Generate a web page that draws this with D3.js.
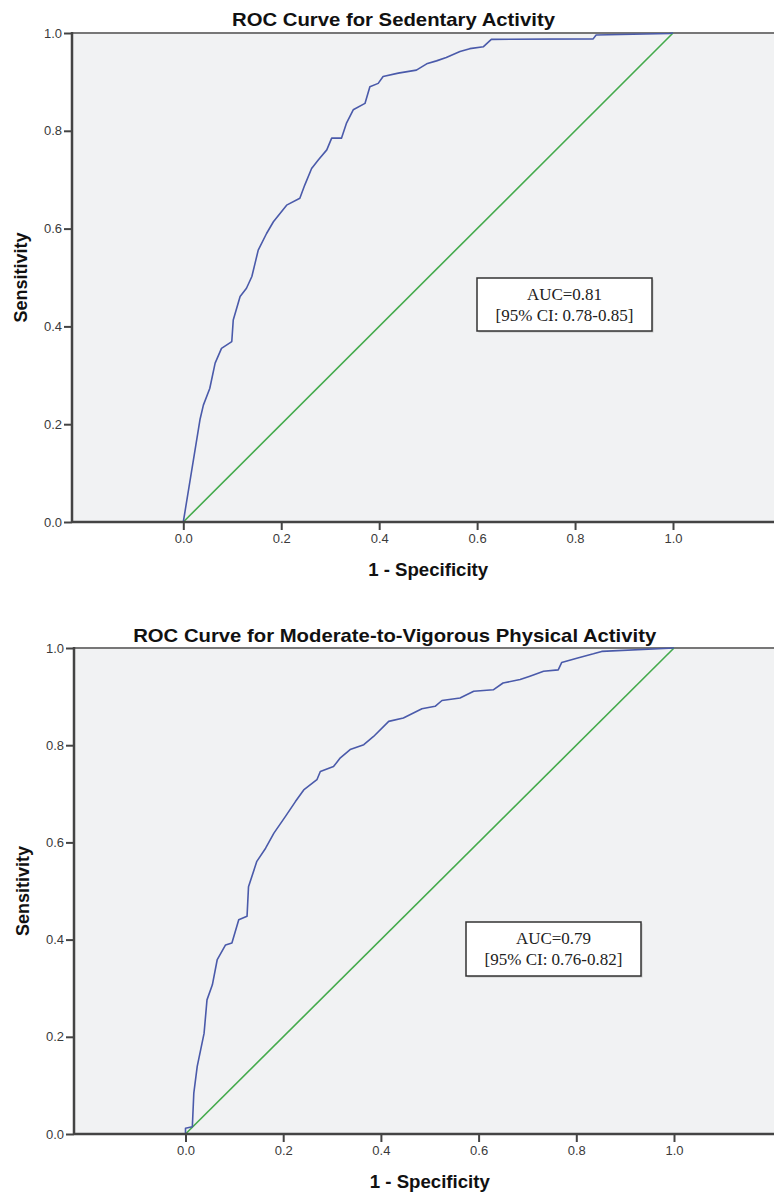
<!DOCTYPE html>
<html>
<head>
<meta charset="utf-8">
<script src="https://cdn.jsdelivr.net/npm/d3@7"></script>
<style>
  body { margin: 0; background: #fff; }
  svg { display: block; }
</style>
</head>
<body>
<svg id="chart" width="774" height="1195"></svg>
<script>
// ROC points (1 - specificity, sensitivity)
const sedFpr = [0, 0.034, 0.041, 0.054, 0.065, 0.078, 0.099, 0.102, 0.116, 0.129,
  0.140, 0.153, 0.170, 0.184, 0.211, 0.238, 0.248, 0.262, 0.276, 0.293,
  0.303, 0.323, 0.333, 0.347, 0.371, 0.381, 0.398, 0.408, 0.439, 0.476,
  0.497, 0.517, 0.537, 0.565, 0.585, 0.613, 0.629, 0.837, 0.843, 0.993, 1];
const sedTpr = [0, 0.209, 0.239, 0.273, 0.325, 0.355, 0.369, 0.413, 0.461, 0.478,
  0.502, 0.556, 0.590, 0.614, 0.648, 0.662, 0.689, 0.723, 0.741, 0.761,
  0.785, 0.785, 0.815, 0.843, 0.856, 0.890, 0.897, 0.911, 0.918, 0.924,
  0.937, 0.943, 0.950, 0.962, 0.968, 0.972, 0.987, 0.988, 0.996, 0.999, 1];

const mvpaFpr = [0, 0, 0.014, 0.017, 0.024, 0.031, 0.038, 0.044, 0.055, 0.065,
  0.082, 0.095, 0.109, 0.126, 0.129, 0.146, 0.164, 0.181, 0.205, 0.225,
  0.242, 0.269, 0.276, 0.303, 0.317, 0.337, 0.365, 0.385, 0.416, 0.446,
  0.484, 0.511, 0.525, 0.562, 0.590, 0.630, 0.650, 0.685, 0.705, 0.733,
  0.763, 0.770, 0.801, 0.835, 0.852, 1];
const mvpaTpr = [0, 0.012, 0.015, 0.084, 0.139, 0.173, 0.207, 0.276, 0.307, 0.359,
  0.389, 0.393, 0.441, 0.448, 0.509, 0.561, 0.588, 0.619, 0.654, 0.684,
  0.708, 0.729, 0.746, 0.756, 0.774, 0.791, 0.801, 0.818, 0.849, 0.856,
  0.875, 0.880, 0.892, 0.897, 0.911, 0.914, 0.928, 0.935, 0.942, 0.952,
  0.955, 0.970, 0.979, 0.988, 0.993, 1];

const refLine = [0, 1];
const xTicks = [0, 0.2, 0.4, 0.6, 0.8, 1.0];
const yTicks = [0, 0.2, 0.4, 0.6, 0.8, 1.0];
const titles = ["ROC Curve for Sedentary Activity", "ROC Curve for Moderate-to-Vigorous Physical Activity"];
const aucLines = [
  ["AUC=0.81", "[95% CI: 0.78-0.85]"],
  ["AUC=0.79", "[95% CI: 0.76-0.82]"]
];

const svg = d3.select('#chart');
const fmt = d3.format('.1f');

function drawPanel(p) {
  const g = svg.append('g');
  const x = d3.scaleLinear().domain([0, 1]).range([p.x0, p.x1]);
  const y = d3.scaleLinear().domain([0, 1]).range([p.bottom, p.top]);

  // plot background
  g.append('rect')
    .attr('x', p.left).attr('y', p.top)
    .attr('width', p.right - p.left).attr('height', p.bottom - p.top)
    .attr('fill', '#f1f2f3');

  // top frame
  g.append('line')
    .attr('x1', p.left).attr('x2', p.right)
    .attr('y1', p.top).attr('y2', p.top)
    .attr('stroke', '#777').attr('stroke-width', 2);

  // diagonal reference
  g.append('path')
    .datum(refLine)
    .attr('d', d3.line().x(d => x(d)).y(d => y(d)))
    .attr('fill', 'none').attr('stroke', '#44aa4c').attr('stroke-width', 1.6);

  // ROC curve
  const pts = p.fpr.map((v, i) => [v, p.tpr[i]]);
  g.append('path')
    .datum(pts)
    .attr('d', d3.line().x(d => x(d[0])).y(d => y(d[1])))
    .attr('fill', 'none').attr('stroke', '#4a5aaa').attr('stroke-width', 1.6)
    .attr('stroke-linejoin', 'round');

  // axes
  const yAxis = g.append('g')
    .attr('transform', `translate(${p.left},0)`)
    .call(d3.axisLeft(y).tickValues(yTicks).tickFormat(fmt).tickSize(8).tickPadding(2));
  const xAxis = g.append('g')
    .attr('transform', `translate(0,${p.bottom})`)
    .call(d3.axisBottom(x).tickValues(xTicks).tickFormat(fmt).tickSize(8).tickPadding(4));

  [yAxis, xAxis].forEach(a => {
    a.select('.domain').remove();
    a.selectAll('.tick line').attr('stroke', '#444').attr('stroke-width', 2);
    a.selectAll('.tick text')
      .attr('fill', '#3a3a3a')
      .style('font-family', '"Liberation Sans", Arial, sans-serif')
      .style('font-size', '13px');
  });

  g.append('line')
    .attr('x1', p.left).attr('x2', p.left)
    .attr('y1', p.top - 1).attr('y2', p.bottom + 1)
    .attr('stroke', '#444').attr('stroke-width', 2.5);
  g.append('line')
    .attr('x1', p.left).attr('x2', p.right)
    .attr('y1', p.bottom).attr('y2', p.bottom)
    .attr('stroke', '#444').attr('stroke-width', 2.5);

  // titles
  g.append('text')
    .attr('x', p.titleX).attr('y', p.titleY)
    .attr('text-anchor', 'middle')
    .attr('textLength', p.titleLen).attr('lengthAdjust', 'spacingAndGlyphs')
    .style('font-family', '"Liberation Sans", Arial, sans-serif')
    .style('font-weight', 'bold').style('font-size', '19px')
    .attr('fill', '#111')
    .text(p.title);

  g.append('text')
    .attr('x', (p.x0 + p.x1) / 2).attr('y', p.bottom + 54)
    .attr('text-anchor', 'middle')
    .attr('textLength', 120).attr('lengthAdjust', 'spacingAndGlyphs')
    .style('font-family', '"Liberation Sans", Arial, sans-serif')
    .style('font-weight', 'bold').style('font-size', '18px')
    .attr('fill', '#111')
    .text('1 - Specificity');

  g.append('text')
    .attr('transform', `translate(${p.left - 45},${(p.top + p.bottom) / 2}) rotate(-90)`)
    .attr('text-anchor', 'middle')
    .attr('textLength', 90).attr('lengthAdjust', 'spacingAndGlyphs')
    .style('font-family', '"Liberation Sans", Arial, sans-serif')
    .style('font-weight', 'bold').style('font-size', '18px')
    .attr('fill', '#111')
    .text('Sensitivity');

  // AUC box
  const b = p.box;
  g.append('rect')
    .attr('x', b.x + 1.5).attr('y', b.y + 1.5)
    .attr('width', b.w).attr('height', b.h)
    .attr('fill', '#c8c8c8');
  g.append('rect')
    .attr('x', b.x).attr('y', b.y)
    .attr('width', b.w).attr('height', b.h)
    .attr('fill', '#fff').attr('stroke', '#333').attr('stroke-width', 1.5);
  g.selectAll('.auc')
    .data(p.auc)
    .enter()
    .append('text')
    .attr('x', b.x + b.w / 2)
    .attr('y', (d, i) => b.y + 22 + i * 21)
    .attr('text-anchor', 'middle')
    .style('font-family', '"Liberation Serif", "Times New Roman", serif')
    .style('font-size', '17px')
    .attr('fill', '#222')
    .text(d => d);
}

drawPanel({
  left: 72, right: 774, top: 33, bottom: 522, x0: 183.3, x1: 673,
  fpr: sedFpr, tpr: sedTpr,
  title: titles[0], titleX: 393.5, titleY: 26, titleLen: 323,
  box: { x: 477, y: 278, w: 175, h: 53 }, auc: aucLines[0]
});

drawPanel({
  left: 74, right: 774, top: 648, bottom: 1134, x0: 185.5, x1: 674,
  fpr: mvpaFpr, tpr: mvpaTpr,
  title: titles[1], titleX: 394.7, titleY: 641.5, titleLen: 523,
  box: { x: 466, y: 922, w: 175, h: 54 }, auc: aucLines[1]
});
</script>
</body>
</html>
